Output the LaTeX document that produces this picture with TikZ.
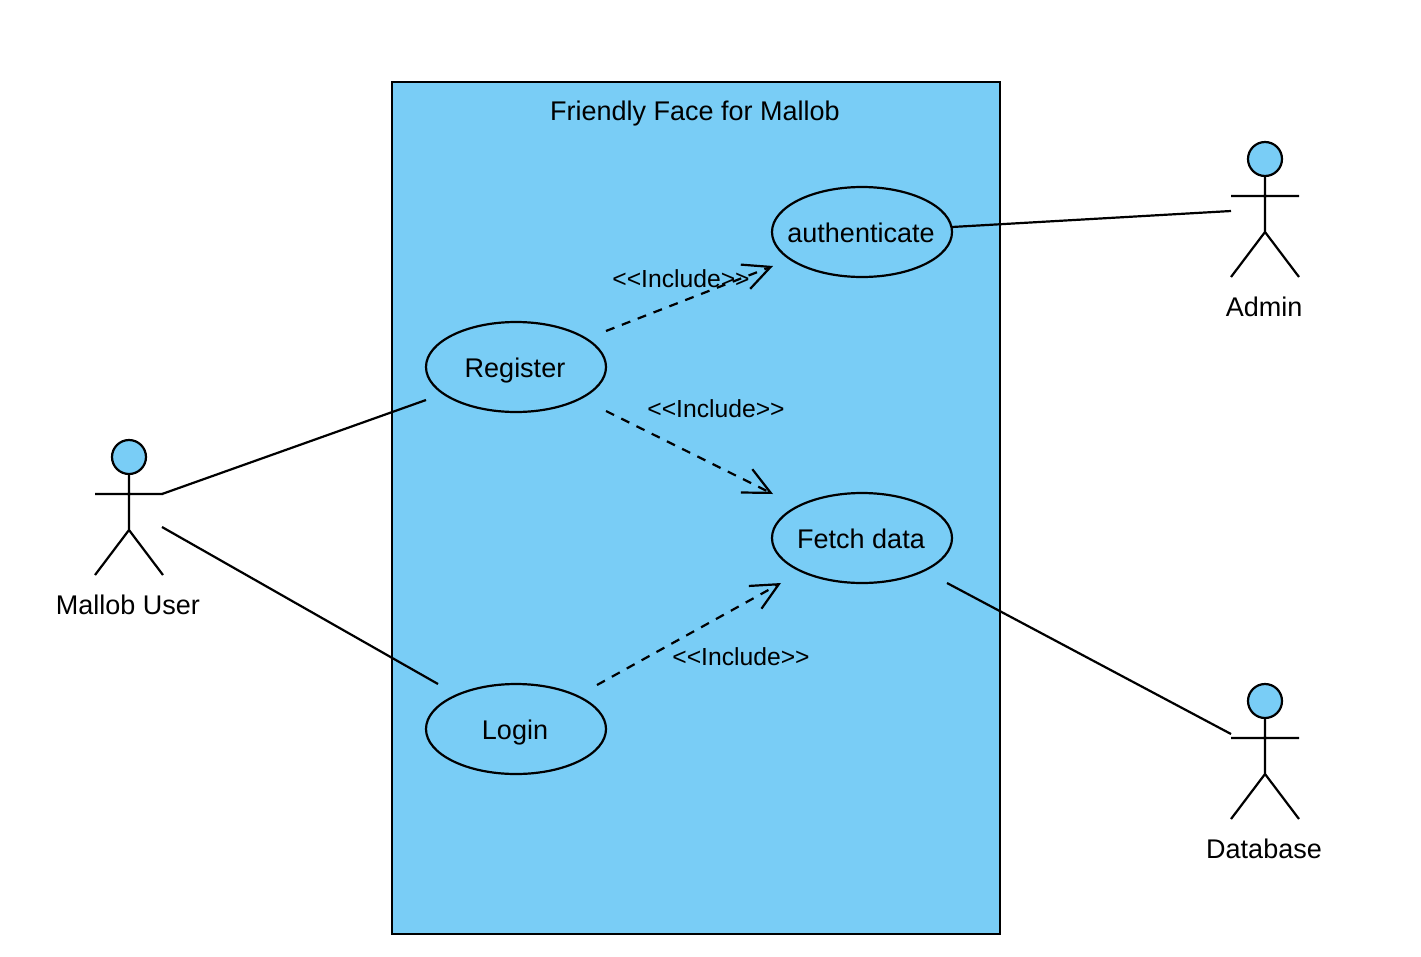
\documentclass[tikz,border=0pt]{standalone}
\usepackage{fontspec}
\setmainfont{Liberation Sans}
\usetikzlibrary{arrows.meta,shapes.geometric}
\definecolor{fillblue}{HTML}{79CDF6}
\tikzset{
  x=1pt,y=-1pt,
  line/.style={draw=black,line width=2.2pt},
  sysbox/.style={draw=black,fill=fillblue,line width=2pt,minimum width=608pt,minimum height=852pt,inner sep=0pt},
  usecase/.style={draw=black,fill=fillblue,line width=2.2pt,ellipse,minimum width=180pt,minimum height=90pt,inner sep=0pt,font=\fontsize{27pt}{32pt}\selectfont},
  inc/.style={line,dash pattern=on 9pt off 8pt,-{Straight Barb[length=27pt,width=26pt,line width=2.2pt]}},
  lbl/.style={font=\fontsize{27pt}{32pt}\selectfont,inner sep=0pt},
  small/.style={font=\fontsize{24.7pt}{30pt}\selectfont,inner sep=0pt},
  head/.style={circle,draw=black,fill=fillblue,line width=2.2pt,minimum size=34pt,inner sep=0pt},
}
\newcommand{\stick}[3]{% name, cx, top
  \node[head] (#1h) at (#2,#3+17) {};
  \coordinate (#1n) at (#2,#3+34);
  \coordinate (#1a) at (#2-34,#3+54);
  \coordinate (#1b) at (#2+34,#3+54);
  \coordinate (#1w) at (#2,#3+90);
  \coordinate (#1l) at (#2-34,#3+135);
  \coordinate (#1r) at (#2+34,#3+135);
  \draw[line] (#1h.south) -- (#1w) -- (#1l) (#1w) -- (#1r) (#1a) -- (#1b);
}
\newcommand{\uctext}[1]{\raisebox{-10pt}[0pt][0pt]{\makebox[0pt]{\hspace{-2pt}#1}}}
\begin{document}
\begin{tikzpicture}
\useasboundingbox (0,0) rectangle (1421,956);
\node[sysbox] (sys) at (696,507.5) {};
\node[lbl] (title) at (695,114) {Friendly Face for Mallob};
\node[usecase] (auth) at (862,232) {\uctext{authenticate}};
\node[usecase] (reg) at (516,367) {\uctext{Register}};
\node[usecase] (fetch) at (862,538) {\uctext{Fetch data}};
\node[usecase] (login) at (516,729) {\uctext{Login}};
\stick{U}{129}{440}
\stick{A}{1265}{142}
\stick{D}{1265}{684}
\node[lbl] (ul) at (128,605) {Mallob User};
\node[lbl] (al) at (1264,307) {Admin};
\node[lbl] (dl) at (1264,849) {Database};
\coordinate (u1) at (162,494);
\coordinate (u2) at (162,527);
\coordinate (r1) at (426,400);
\coordinate (l1) at (438,684);
\coordinate (a1) at (952,227);
\coordinate (a2) at (1231,211);
\coordinate (f1) at (947,583);
\coordinate (d2) at (1231,734);
\draw[line] (u1) -- (r1);
\draw[line] (u2) -- (l1);
\draw[line] (a1) -- (a2);
\draw[line] (f1) -- (d2);
\coordinate (i1s) at (606,331);
\coordinate (i1e) at (773,266);
\coordinate (i2s) at (606,411);
\coordinate (i2e) at (773,494);
\coordinate (i3s) at (597,685);
\coordinate (i3e) at (781,583);
\draw[inc] (i1s) -- (i1e);
\draw[inc] (i2s) -- (i2e);
\draw[inc] (i3s) -- (i3e);
\node[small] (t1) at (681,279) {<{}<Include>{}>};
\node[small] (t2) at (716,409) {<{}<Include>{}>};
\node[small] (t3) at (741,657) {<{}<Include>{}>};
\end{tikzpicture}
\end{document}
